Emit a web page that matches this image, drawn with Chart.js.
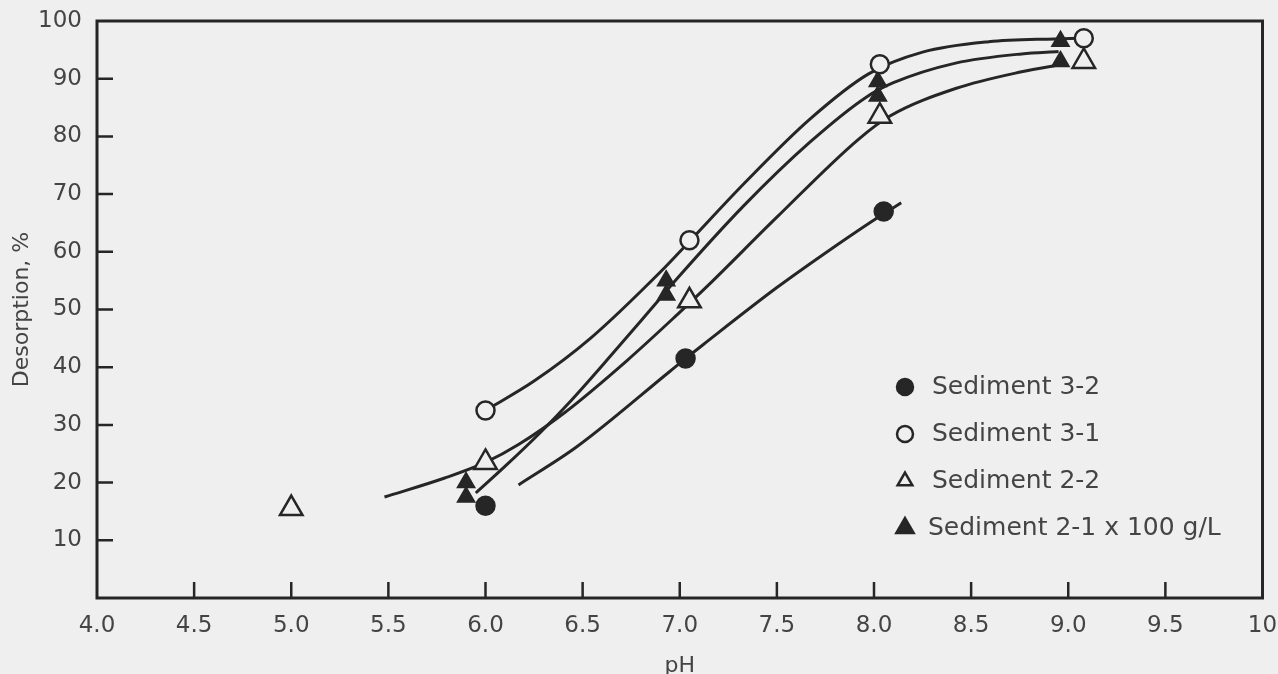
<!DOCTYPE html>
<html>
<head>
<meta charset="utf-8">
<script src="https://cdn.jsdelivr.net/npm/chart.js@4.4.1/dist/chart.umd.min.js"></script>
<style>
  html, body { margin: 0; padding: 0; background: #efefef; }
  #wrap { width: 1278px; height: 674px; }
</style>
</head>
<body>
<div id="wrap"><canvas id="desorption" width="1278" height="674"></canvas></div>
<script>
// measured points, pH vs desorption %
const sed32X = [6.0, 7.03, 8.05];
const sed32Y = [16, 41.5, 67];
const sed31X = [6.0, 7.05, 8.03, 9.08];
const sed31Y = [32.5, 62, 92.5, 97];
const sed22X = [5.0, 6.0, 7.05, 8.03, 9.08];
const sed22Y = [15.5, 23.5, 51.5, 83.5, 93];
const sed21X = [5.9, 5.9, 6.93, 6.93, 8.02, 8.02, 8.96, 8.96];
const sed21Y = [20, 17.5, 55, 52.5, 89.5, 87, 96.5, 93];

// hand drawn curves
const fit32X = [6.17, 6.47, 6.95, 7.03, 7.12, 7.5, 7.75, 7.99, 8.05, 8.14];
const fit32Y = [19.6, 26.2, 39.3, 41.5, 43.9, 53.8, 59.8, 65.3, 66.6, 68.5];
const fit31X = [6.0, 6.25, 6.54, 6.9, 7.05, 7.33, 7.67, 7.97, 8.25, 8.59, 8.93, 9.05];
const fit31Y = [32.5, 37.6, 45, 56.5, 61.8, 71.8, 83, 90.8, 94.6, 96.4, 96.9, 97];
const fit22X = [5.48, 5.79, 6.0, 6.17, 6.41, 6.73, 6.99, 7.15, 7.5, 7.92, 8.08, 8.42, 8.76, 8.97];
const fit22Y = [17.5, 20.8, 23.5, 26.6, 32.2, 41.2, 49.2, 54.3, 66, 79.5, 83.5, 88.3, 91.2, 92.5];
const fit21X = [5.95, 6.1, 6.28, 6.44, 6.64, 6.85, 6.99, 7.33, 7.67, 7.96, 8.1, 8.42, 8.76, 8.95];
const fit21Y = [18.2, 22.8, 28.6, 34.2, 41.8, 50, 55.5, 68, 79, 86.8, 89.3, 92.7, 94.3, 94.7];

const xTicks = [4.0, 4.5, 5.0, 5.5, 6.0, 6.5, 7.0, 7.5, 8.0, 8.5, 9.0, 9.5, 10];
const yTicks = [0, 10, 20, 30, 40, 50, 60, 70, 80, 90, 100];

const bg = '#efefef';
const ink = '#262626';
const textInk = '#444444';
const fontName = '"DejaVu Sans", "Liberation Sans", sans-serif';

function pts(xs, ys) {
  return xs.map((x, i) => ({x: x, y: ys[i]}));
}

function markers(label, xs, ys, style, filled, radius) {
  return {
    type: 'scatter',
    label: label,
    data: pts(xs, ys),
    pointStyle: style,
    pointRadius: radius,
    pointBorderWidth: 2.5,
    pointBorderColor: ink,
    pointBackgroundColor: filled ? ink : bg,
    filled: filled,
    showLine: false,
    order: 1
  };
}

function curve(xs, ys) {
  return {
    type: 'line',
    label: '',
    data: pts(xs, ys),
    borderColor: ink,
    borderWidth: 3,
    pointRadius: 0,
    fill: false,
    cubicInterpolationMode: 'monotone',
    isFit: true,
    order: 2
  };
}

const background = {
  id: 'background',
  beforeDraw(chart) {
    const ctx = chart.ctx;
    ctx.save();
    ctx.fillStyle = bg;
    ctx.fillRect(0, 0, chart.width, chart.height);
    ctx.restore();
  }
};

// box round the plot, tick marks pointing inwards
const frame = {
  id: 'frame',
  beforeDatasetsDraw(chart) {
    const {ctx, chartArea: a, scales: {x, y}} = chart;
    ctx.save();
    ctx.strokeStyle = ink;
    ctx.lineWidth = 3;
    ctx.strokeRect(a.left, a.top, a.right - a.left, a.bottom - a.top);
    ctx.lineWidth = 2.5;
    ctx.beginPath();
    x.ticks.forEach(t => {
      if (t.value <= x.min || t.value >= x.max) return;
      const px = x.getPixelForValue(t.value);
      ctx.moveTo(px, a.bottom);
      ctx.lineTo(px, a.bottom - 16);
    });
    y.ticks.forEach(t => {
      if (t.value <= y.min || t.value >= y.max) return;
      const py = y.getPixelForValue(t.value);
      ctx.moveTo(a.left, py);
      ctx.lineTo(a.left + 16, py);
    });
    ctx.stroke();
    ctx.restore();
  }
};

const keyBox = {
  id: 'keyBox',
  afterDraw(chart) {
    const ctx = chart.ctx;
    const items = chart.data.datasets.filter(d => !d.isFit);
    ctx.save();
    ctx.font = '25px ' + fontName;
    ctx.textBaseline = 'middle';
    ctx.textAlign = 'left';
    items.forEach((d, i) => {
      const mx = 905;
      const my = 387 + i * 47;
      ctx.lineWidth = 2.5;
      ctx.strokeStyle = ink;
      ctx.fillStyle = d.filled ? ink : bg;
      ctx.beginPath();
      if (d.pointStyle === 'circle') {
        ctx.arc(mx, my, 8, 0, Math.PI * 2);
      } else {
        const r = d.filled ? 10 : 8.5;
        ctx.moveTo(mx, my - r);
        ctx.lineTo(mx + r * 0.866, my + r * 0.5);
        ctx.lineTo(mx - r * 0.866, my + r * 0.5);
        ctx.closePath();
      }
      ctx.fill();
      ctx.stroke();
      ctx.fillStyle = textInk;
      ctx.fillText(d.label, i === 3 ? 928 : 932, my);
    });
    ctx.restore();
  }
};

new Chart(document.getElementById('desorption'), {
  type: 'scatter',
  data: {
    datasets: [
      markers('Sediment 3-2', sed32X, sed32Y, 'circle', true, 9),
      markers('Sediment 3-1', sed31X, sed31Y, 'circle', false, 9),
      markers('Sediment 2-2', sed22X, sed22Y, 'triangle', false, 13),
      markers('Sediment 2-1 x 100 g/L', sed21X, sed21Y, 'triangle', true, 9),
      curve(fit32X, fit32Y),
      curve(fit31X, fit31Y),
      curve(fit22X, fit22Y),
      curve(fit21X, fit21Y)
    ]
  },
  options: {
    responsive: false,
    animation: false,
    devicePixelRatio: 1,
    layout: {
      padding: {left: 0, top: 21, right: 14, bottom: 0}
    },
    plugins: {
      legend: {display: false},
      tooltip: {enabled: false}
    },
    scales: {
      x: {
        type: 'linear',
        min: 4,
        max: 10,
        afterBuildTicks: s => { s.ticks = xTicks.map(v => ({value: v})); },
        afterFit: s => { s.height = 76; s.paddingLeft = 0; s.paddingRight = 0; },
        grid: {display: false, drawTicks: false},
        border: {display: false},
        ticks: {
          padding: 14,
          color: textInk,
          font: {family: fontName, size: 23},
          maxRotation: 0,
          callback: v => v === 10 ? '10' : v.toFixed(1)
        },
        title: {
          display: true,
          text: 'pH',
          color: textInk,
          font: {family: fontName, size: 22, lineHeight: 1},
          padding: {top: 0, bottom: -3}
        }
      },
      y: {
        type: 'linear',
        min: 0,
        max: 100,
        afterBuildTicks: s => { s.ticks = yTicks.map(v => ({value: v})); },
        afterFit: s => { s.width = 97; s.paddingTop = 0; s.paddingBottom = 0; },
        grid: {display: false, drawTicks: false},
        border: {display: false},
        ticks: {
          padding: 15,
          color: textInk,
          font: {family: fontName, size: 23},
          callback: v => v === 0 ? '' : String(v)
        },
        title: {
          display: true,
          text: 'Desorption, %',
          color: textInk,
          font: {family: fontName, size: 22, lineHeight: 1},
          padding: {top: 11, bottom: 0}
        }
      }
    }
  },
  plugins: [background, frame, keyBox]
});
</script>
</body>
</html>
